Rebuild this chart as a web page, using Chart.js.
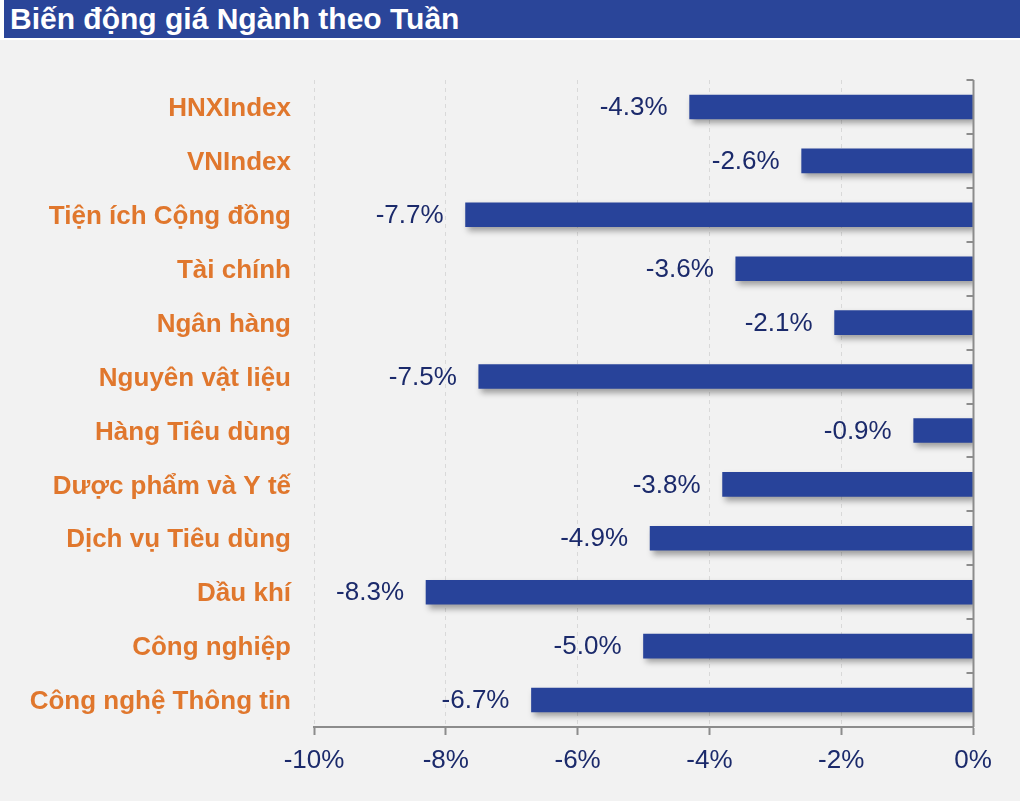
<!DOCTYPE html>
<html>
<head>
<meta charset="utf-8">
<script src="https://cdn.jsdelivr.net/npm/chart.js@4"></script>
<style>
  html, body { margin: 0; padding: 0; background: #f2f2f2; }
  #wrap { position: relative; width: 1020px; height: 801px; overflow: hidden; }
  #head { position: absolute; left: 0; top: 0; width: 1020px; height: 40px; background: #ffffff; }
  #title { position: absolute; left: 4px; top: 0; width: 1016px; height: 38px; background: #2a4599;
           color: #ffffff; font: bold 30px "Liberation Sans", Arial, sans-serif; line-height: 38px;
           padding-left: 6px; box-sizing: border-box; white-space: nowrap; }
  canvas { position: absolute; left: 0; top: 0; }
</style>
</head>
<body>
<div id="wrap">
  <canvas id="c" width="1020" height="801"></canvas>
  <div id="head"></div>
  <div id="title">Biến động giá Ngành theo Tuần</div>
</div>
<script>
const categories = [
  "HNXIndex", "VNIndex", "Tiện ích Cộng đồng", "Tài chính", "Ngân hàng",
  "Nguyên vật liệu", "Hàng Tiêu dùng", "Dược phẩm và Y tế", "Dịch vụ Tiêu dùng",
  "Dầu khí", "Công nghiệp", "Công nghệ Thông tin"
];
const weeklyChange = [-4.3, -2.6, -7.7, -3.6, -2.1, -7.5, -0.9, -3.8, -4.9, -8.3, -5.0, -6.7];
const xTickValues = [-10, -8, -6, -4, -2, 0];

const FONT = '"Liberation Sans", Arial, sans-serif';
const NAVY = '#1b2a6b';
const ORANGE = '#e0772d';
const BAR = '#28439a';
const AXIS = '#8c8c8c';

const shadowPlugin = {
  id: 'barShadow',
  beforeDatasetDraw(chart) {
    const ctx = chart.ctx;
    ctx.save();
    ctx.shadowColor = 'rgba(0,0,0,0.35)';
    ctx.shadowBlur = 6;
    ctx.shadowOffsetX = 3;
    ctx.shadowOffsetY = 4;
  },
  afterDatasetDraw(chart) {
    chart.ctx.restore();
  }
};

const axisPlugin = {
  id: 'rightAxis',
  afterDatasetsDraw(chart) {
    const ctx = chart.ctx;
    const xs = chart.scales.x, ys = chart.scales.y;
    const x0 = Math.round(xs.getPixelForValue(0)) + 0.5;
    const top = chart.chartArea.top, bottom = chart.chartArea.bottom;
    ctx.save();
    ctx.strokeStyle = AXIS;
    ctx.lineWidth = 2;
    ctx.beginPath();
    ctx.moveTo(x0, top);
    ctx.lineTo(x0, bottom);
    const n = categories.length;
    const step = (ys.getPixelForValue(1) - ys.getPixelForValue(0));
    for (let i = 0; i <= n; i++) {
      const y = Math.round(ys.getPixelForValue(i) - step / 2);
      ctx.moveTo(x0 - 7, y);
      ctx.lineTo(x0, y);
    }
    ctx.stroke();
    // data labels
    ctx.fillStyle = NAVY;
    ctx.font = '26px ' + FONT;
    ctx.textAlign = 'right';
    ctx.textBaseline = 'middle';
    const meta = chart.getDatasetMeta(0);
    meta.data.forEach((bar, i) => {
      ctx.fillText(weeklyChange[i].toFixed(1) + '%', bar.x - 22, bar.y + 1);
    });
    ctx.restore();
  }
};

new Chart(document.getElementById('c'), {
  type: 'bar',
  data: {
    labels: categories,
    datasets: [{
      data: weeklyChange,
      backgroundColor: BAR,
      borderWidth: 0,
      barThickness: 24
    }]
  },
  plugins: [shadowPlugin, axisPlugin],
  options: {
    indexAxis: 'y',
    responsive: false,
    animation: false,
    events: [],
    layout: { padding: { top: 80, right: 47, left: 0, bottom: 0 } },
    plugins: { legend: { display: false }, tooltip: { enabled: false }, title: { display: false } },
    scales: {
      x: {
        min: -10, max: 0,
        afterFit(scale) { scale.height = 74; },
        afterBuildTicks(scale) { scale.ticks = xTickValues.map(v => ({ value: v })); },
        grid: {
          display: true,
          drawOnChartArea: true,
          color: '#d9d9d9',
          tickBorderDash: [],
          tickColor: AXIS,
          tickLength: 8,
          tickWidth: 2,
          lineWidth: 1
        },
        border: { display: true, color: AXIS, width: 2, dash: [4, 4] },
        ticks: {
          color: NAVY,
          font: { family: FONT, size: 26 },
          padding: 10,
          callback: v => v + '%'
        }
      },
      y: {
        position: 'left',
        afterFit(scale) { scale.width = 314; },
        grid: { display: false, drawTicks: false },
        border: { display: false },
        ticks: {
          color: ORANGE,
          font: { family: FONT, size: 26, weight: 'bold' },
          padding: 23,
          labelOffset: 2,
          autoSkip: false
        }
      }
    }
  }
});
</script>
</body>
</html>
